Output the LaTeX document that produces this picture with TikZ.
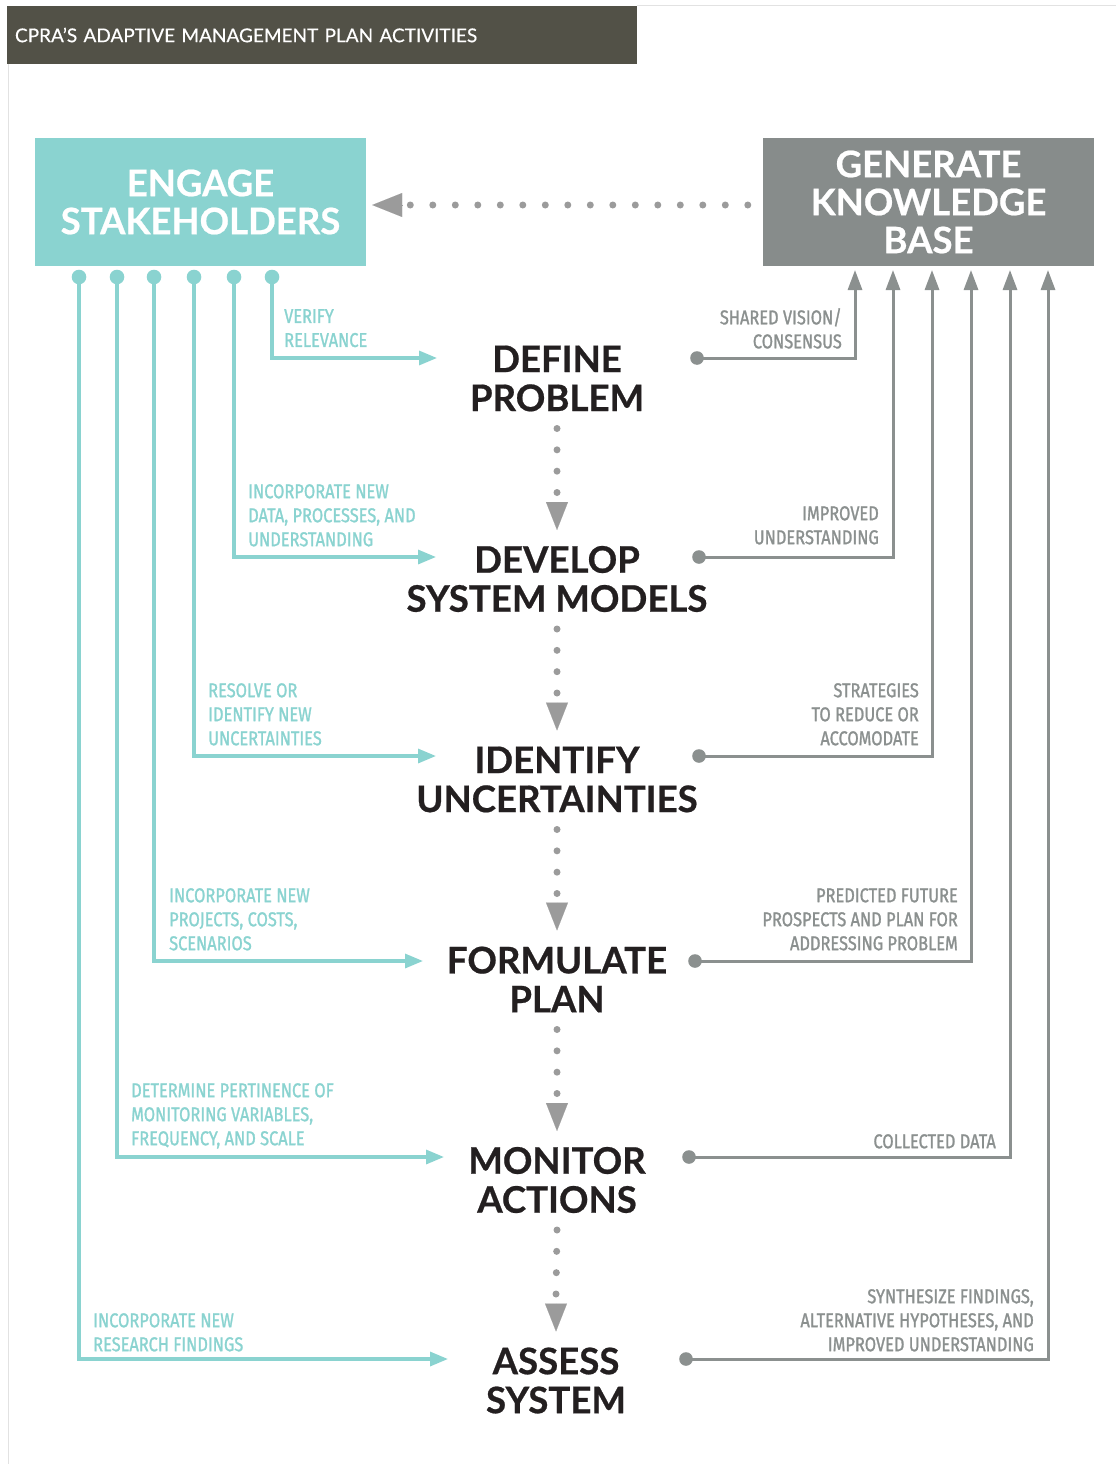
\documentclass[tikz,border=0pt]{standalone}
\usepackage{fontspec}
\usetikzlibrary{arrows.meta,calc}
\newfontfamily\latof[FakeBold=0.4]{Lato}
\newfontfamily\heavyf[BoldFeatures={FakeBold=0.6}]{Lato}
\newfontfamily\condf[FakeStretch=0.82,FakeBold=1.3]{Fira Sans}
\definecolor{hdr}{HTML}{525147}
\definecolor{tealc}{HTML}{8AD3D0}
\definecolor{greybox}{HTML}{878C8B}
\definecolor{greyline}{HTML}{8B908F}
\definecolor{dotgrey}{HTML}{9B9B9B}
\definecolor{maintext}{HTML}{231F20}
\definecolor{framec}{HTML}{E2E2E2}
\begin{document}
\begin{tikzpicture}[x=1pt,y=-1pt,
  headerbox/.style={fill=hdr,text=white,minimum height=58pt,text width=614pt,inner xsep=8pt,inner ysep=0pt,align=left,font=\latof\fontsize{19}{19}\selectfont},
  bigbox/.style={minimum width=331pt,minimum height=128pt,inner sep=0pt,align=center,text=white,font=\heavyf\bfseries\fontsize{36.5}{38}\selectfont},
  mainnode/.style={align=center,inner sep=0pt,text=maintext,font=\heavyf\bfseries\fontsize{36.6}{39}\selectfont},
  tlabel/.style={anchor=north west,align=left,inner sep=0pt,text=tealc,font=\condf\fontsize{20}{24}\selectfont},
  glabel/.style={anchor=north east,align=right,inner sep=0pt,text=greyline,font=\condf\fontsize{20}{24}\selectfont},
  tconn/.style={draw=tealc,line width=3.2pt,-{Triangle[length=18pt,width=14pt]}},
  gconn/.style={draw=greyline,line width=3pt,-{Triangle[length=20pt,width=14pt]}},
  tdot/.style={fill=tealc},
  gdot/.style={fill=greyline},
  dotline/.style={draw=dotgrey,line width=7pt,line cap=round,dash pattern=on 0pt off 21.333pt},
  hdotline/.style={draw=dotgrey,line width=7pt,line cap=round,dash pattern=on 0pt off 22.5pt},
  vtip/.style={draw=dotgrey,fill=dotgrey,line width=0.1pt,-{Triangle[length=28pt,width=22pt]}},
  htip/.style={draw=dotgrey,fill=dotgrey,line width=0.1pt,-{Triangle[length=30pt,width=24pt]}},
  framel/.style={draw=framec,line width=1pt}
]
\useasboundingbox (0,0) rectangle (1116,1464);
% frame
\draw[framel] (8,64) -- (8,1464);
\draw[framel] (637,6) -- (1116,6);
% header
\node[headerbox] (header) at (322,35) {CPRA’S ADAPTIVE MANAGEMENT PLAN ACTIVITIES};
% boxes
\node[bigbox,fill=tealc] (engage) at (200.5,202) {ENGAGE\\STAKEHOLDERS};
\node[bigbox,fill=greybox] (generate) at (928.5,202) {GENERATE\\KNOWLEDGE\\BASE};
% main steps
\node[mainnode] (define) at (557,378.5) {DEFINE\\PROBLEM};
\node[mainnode] (develop) at (557,579) {DEVELOP\\SYSTEM MODELS};
\node[mainnode] (identify) at (557,779.5) {IDENTIFY\\UNCERTAINTIES};
\node[mainnode] (formulate) at (557,979.5) {FORMULATE\\PLAN};
\node[mainnode] (monitor) at (557,1180) {MONITOR\\ACTIONS};
\node[mainnode] (assess) at (556,1380.5) {ASSESS\\SYSTEM};
% dotted feedback arrow
\coordinate (hstart) at ($(generate.west)+(-15,3)$);
\coordinate (htipc) at ($(engage.east)+(6,3)$);
\draw[hdotline] (hstart) -- ($(htipc)+(37,0)$);
\draw[htip] ($(htipc)+(30,0)$) -- (htipc);
% vertical dotted connectors
\foreach \a/\b in {define/develop,develop/identify,identify/formulate,formulate/monitor,monitor/assess}{
  \draw[dotline] ($(\a.center)+(0,50)$) -- ($(\b.center)+(0,-86)$);
  \draw[vtip] ($(\b.center)+(0,-77)$) -- ($(\b.center)+(0,-49)$);
}
% teal ports
\foreach \n/\x in {6/79,5/117,4/154,3/194,2/234,1/272}{
  \coordinate (e\n) at (\x,277);
}
\coordinate (in1) at (437,358);
\coordinate (in2) at (436,557);
\coordinate (in3) at (436,756);
\coordinate (in4) at (423,961);
\coordinate (in5) at (444,1157);
\coordinate (in6) at (448,1359);
\foreach \n in {1,...,6}{
  \draw[tconn] (e\n) |- (in\n);
  \fill[tdot] (e\n) circle (7.3pt);
}
% grey ports
\foreach \n/\x in {1/855,2/893,3/932,4/971,5/1010,6/1048}{
  \coordinate (g\n) at (\x,270);
}
\coordinate (o1) at (697,358);
\coordinate (o2) at (699,557);
\coordinate (o3) at (699,756);
\coordinate (o4) at (695,961);
\coordinate (o5) at (689,1157);
\coordinate (o6) at (686,1359);
\foreach \n in {1,...,6}{
  \draw[gconn] (o\n) -| (g\n);
  \fill[gdot] (o\n) circle (6.8pt);
}
% teal labels
\node[tlabel] (tl1) at (284,309) {VERIFY\\RELEVANCE};
\node[tlabel] (tl2) at (248,484) {INCORPORATE NEW\\DATA, PROCESSES, AND\\UNDERSTANDING};
\node[tlabel] (tl3) at (208,683) {RESOLVE OR\\IDENTIFY NEW\\UNCERTAINTIES};
\node[tlabel] (tl4) at (169,888) {INCORPORATE NEW\\PROJECTS, COSTS,\\SCENARIOS};
\node[tlabel] (tl5) at (131,1083) {DETERMINE PERTINENCE OF\\MONITORING VARIABLES,\\FREQUENCY, AND SCALE};
\node[tlabel] (tl6) at (93,1313) {INCORPORATE NEW\\RESEARCH FINDINGS};
% grey labels
\node[glabel] (gl1) at (842,308) {SHARED VISION/\\CONSENSUS};
\node[glabel] (gl2) at (879,506) {IMPROVED\\UNDERSTANDING};
\node[glabel] (gl3) at (919,683) {STRATEGIES\\TO REDUCE OR\\ACCOMODATE};
\node[glabel] (gl4) at (958,888) {PREDICTED FUTURE\\PROSPECTS AND PLAN FOR\\ADDRESSING PROBLEM};
\node[glabel] (gl5) at (996,1134) {COLLECTED DATA};
\node[glabel] (gl6) at (1034,1289) {SYNTHESIZE FINDINGS,\\ALTERNATIVE HYPOTHESES, AND\\IMPROVED UNDERSTANDING};
\end{tikzpicture}
\end{document}
